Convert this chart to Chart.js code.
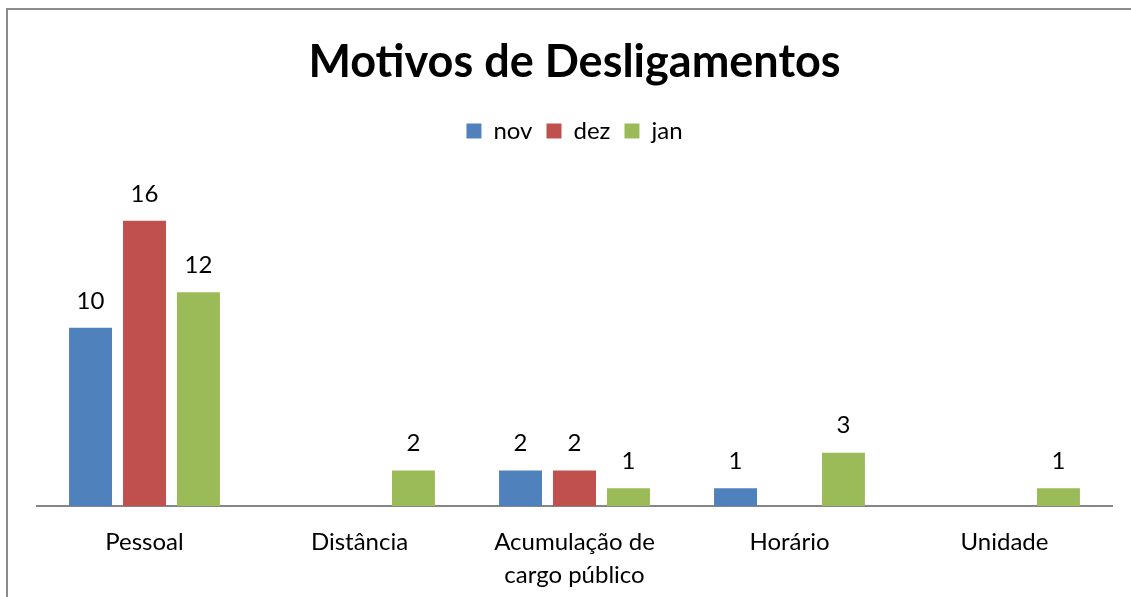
<!DOCTYPE html>
<html>
<head>
<meta charset="utf-8">
<script src="https://cdn.jsdelivr.net/npm/chart.js@4"></script>
<style>
  html, body { margin: 0; padding: 0; background: #fff; overflow: hidden; }
  #frame { position: absolute; left: 6px; top: 8px; width: 1200px; height: 700px;
           border-left: 2px solid #8c8c8c; border-top: 2px solid #8c8c8c; }
  #wrap { position: absolute; left: 0; top: 0; width: 1131px; height: 597px; }
</style>
</head>
<body>
<div id="frame"></div>
<div id="wrap"><canvas id="chart" width="1131" height="597"></canvas></div>
<script>
// dados
const categories = ['Pessoal', 'Distância', ['Acumulação de', 'cargo público'], 'Horário', 'Unidade'];
const novValues = [10, 0, 2, 1, 0];
const dezValues = [16, 0, 2, 0, 0];
const janValues = [12, 2, 1, 3, 1];

const FONT = 'Lato, "Open Sans", sans-serif';

// rótulos de valor acima das barras (zero não aparece)
const valueLabels = {
  id: 'valueLabels',
  afterDatasetsDraw(chart) {
    const ctx = chart.ctx;
    ctx.save();
    ctx.font = '24px ' + FONT;
    ctx.fillStyle = '#000';
    ctx.textAlign = 'center';
    ctx.textBaseline = 'middle';
    chart.data.datasets.forEach((ds, i) => {
      chart.getDatasetMeta(i).data.forEach((bar, j) => {
        const v = ds.data[j];
        if (!v) return;
        ctx.fillText(String(v), bar.x, bar.y - 27);
      });
    });
    ctx.restore();
  }
};

new Chart(document.getElementById('chart'), {
  type: 'bar',
  data: {
    labels: categories,
    datasets: [
      { label: 'nov', data: novValues, backgroundColor: '#4F81BD' },
      { label: 'dez', data: dezValues, backgroundColor: '#C0504D' },
      { label: 'jan', data: janValues, backgroundColor: '#9BBB59' },
    ],
  },
  options: {
    responsive: false,
    animation: false,
    categoryPercentage: 0.753,
    barPercentage: 0.796,
    layout: { padding: { left: 37, right: 19, top: 25, bottom: -14 } },
    plugins: {
      title: {
        display: true,
        text: 'Motivos de Desligamentos',
        color: '#000',
        font: { family: FONT, size: 45, weight: 'bold', lineHeight: 1.2 },
        padding: { top: 10, bottom: 16 },
      },
      legend: {
        labels: {
          color: '#000',
          font: { family: FONT, size: 24 },
          boxWidth: 15,
          boxHeight: 15,
          padding: 14,
        },
      },
      tooltip: { enabled: false },
    },
    scales: {
      x: {
        grid: { display: false, drawTicks: false },
        border: { display: true, color: '#868686', width: 2 },
        ticks: { color: '#000', font: { family: FONT, size: 24, lineHeight: 1.35 }, padding: 20, maxRotation: 0 },
      },
      y: {
        display: false,
        min: 0,
        max: 19.8,
      },
    },
  },
  plugins: [valueLabels],
});
</script>
</body>
</html>
